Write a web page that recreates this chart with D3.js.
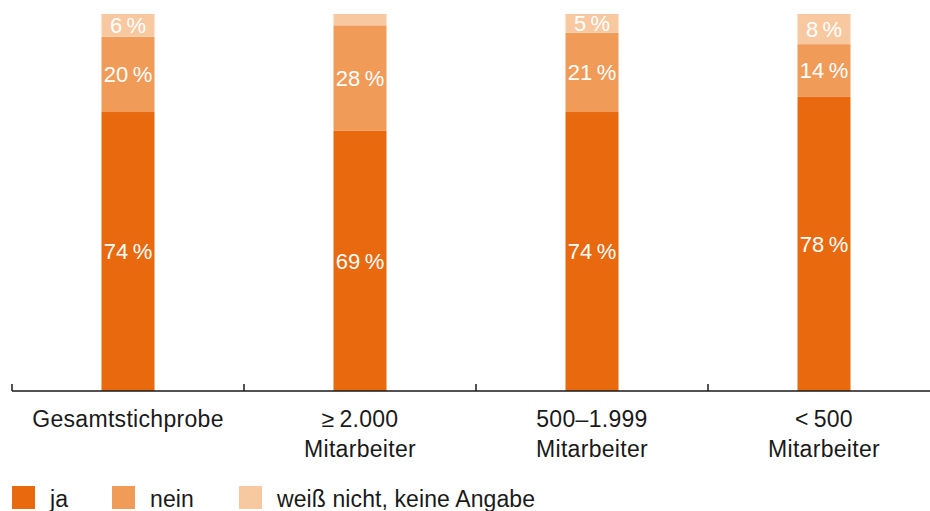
<!DOCTYPE html>
<html><head><meta charset="utf-8">
<script src="https://cdn.jsdelivr.net/npm/d3@7"></script>
<style>body{margin:0;background:#fff}svg{display:block}text{font-family:"Liberation Sans",Arial,Helvetica,sans-serif}</style>
</head><body>
<svg id="c" width="930" height="511"></svg>
<script>
const categories = [["Gesamtstichprobe"], ["\u2265\u20092.000", "Mitarbeiter"], ["500\u20131.999", "Mitarbeiter"], ["<\u2009500", "Mitarbeiter"]];
const seriesNames = ["ja", "nein", "weiß nicht, keine Angabe"];
const ja = [74, 69, 74, 78];
const nein = [20, 28, 21, 14];
const weissNicht = [6, 3, 5, 8];
const showLabel = [[true,true,true,true],[true,true,true,true],[true,false,true,true]];
const colors = ["#E9690F", "#F19B58", "#F8C8A0"];

const svg = d3.select("#c");
const x = d3.scaleBand().domain(d3.range(categories.length)).range([12, 940]).paddingInner(0).paddingOuter(0);
const y = d3.scaleLinear().domain([0, 100]).range([391, 14]);
const barW = 53;

const rows = categories.map((c, i) => ({i, ja: ja[i], nein: nein[i], weiss: weissNicht[i]}));
const stack = d3.stack().keys(["ja", "nein", "weiss"])(rows);

stack.forEach((layer, k) => {
  const g = svg.append("g");
  g.selectAll("rect").data(layer).join("rect")
    .attr("x", d => x(d.data.i) + x.bandwidth()/2 - barW/2)
    .attr("width", barW)
    .attr("y", d => y(d[1]))
    .attr("height", d => y(d[0]) - y(d[1]))
    .attr("fill", colors[k]);
  g.selectAll("text").data(layer.filter((d, j) => showLabel[k][j])).join("text")
    .attr("x", d => x(d.data.i) + x.bandwidth()/2)
    .attr("y", d => (y(d[0]) + y(d[1]))/2)
    .attr("dy", "0.36em")
    .attr("text-anchor", "middle")
    .attr("fill", "#fff")
    .attr("font-size", 22)
    .text(d => (d[1]-d[0]) + "\u2009%");
});

// axis
const axisG = svg.append("g");
axisG.append("line").attr("x1", 12).attr("x2", 930).attr("y1", 391).attr("y2", 391)
  .attr("stroke", "#1a1a1a").attr("stroke-width", 1.5);
axisG.selectAll("line.t").data(d3.range(categories.length)).join("line").attr("class","t")
  .attr("x1", d => x(d)).attr("x2", d => x(d)).attr("y1", 384).attr("y2", 391)
  .attr("stroke", "#1a1a1a").attr("stroke-width", 1.5);

svg.append("g").selectAll("text").data(categories).join("text")
  .attr("text-anchor", "middle")
  .attr("font-size", 23)
  .attr("letter-spacing", 0.3)
  .attr("fill", "#1a1a1a")
  .attr("transform", (d, i) => `translate(${x(i) + x.bandwidth()/2},427)`)
  .each(function(d) {
    d3.select(this).selectAll("tspan").data(d).join("tspan")
      .attr("x", 0).attr("y", (t, j) => j * 30).text(t => t);
  });

// legend
const legX = [12, 112, 239];
const lg = svg.append("g");
seriesNames.forEach((n, k) => {
  lg.append("rect").attr("x", legX[k]).attr("y", 486).attr("width", 23).attr("height", 23).attr("fill", colors[k]);
  lg.append("text").attr("x", legX[k] + 38).attr("y", 507).attr("font-size", 23).attr("letter-spacing", 0.1).attr("fill", "#1a1a1a").text(n);
});
</script>
</body></html>
